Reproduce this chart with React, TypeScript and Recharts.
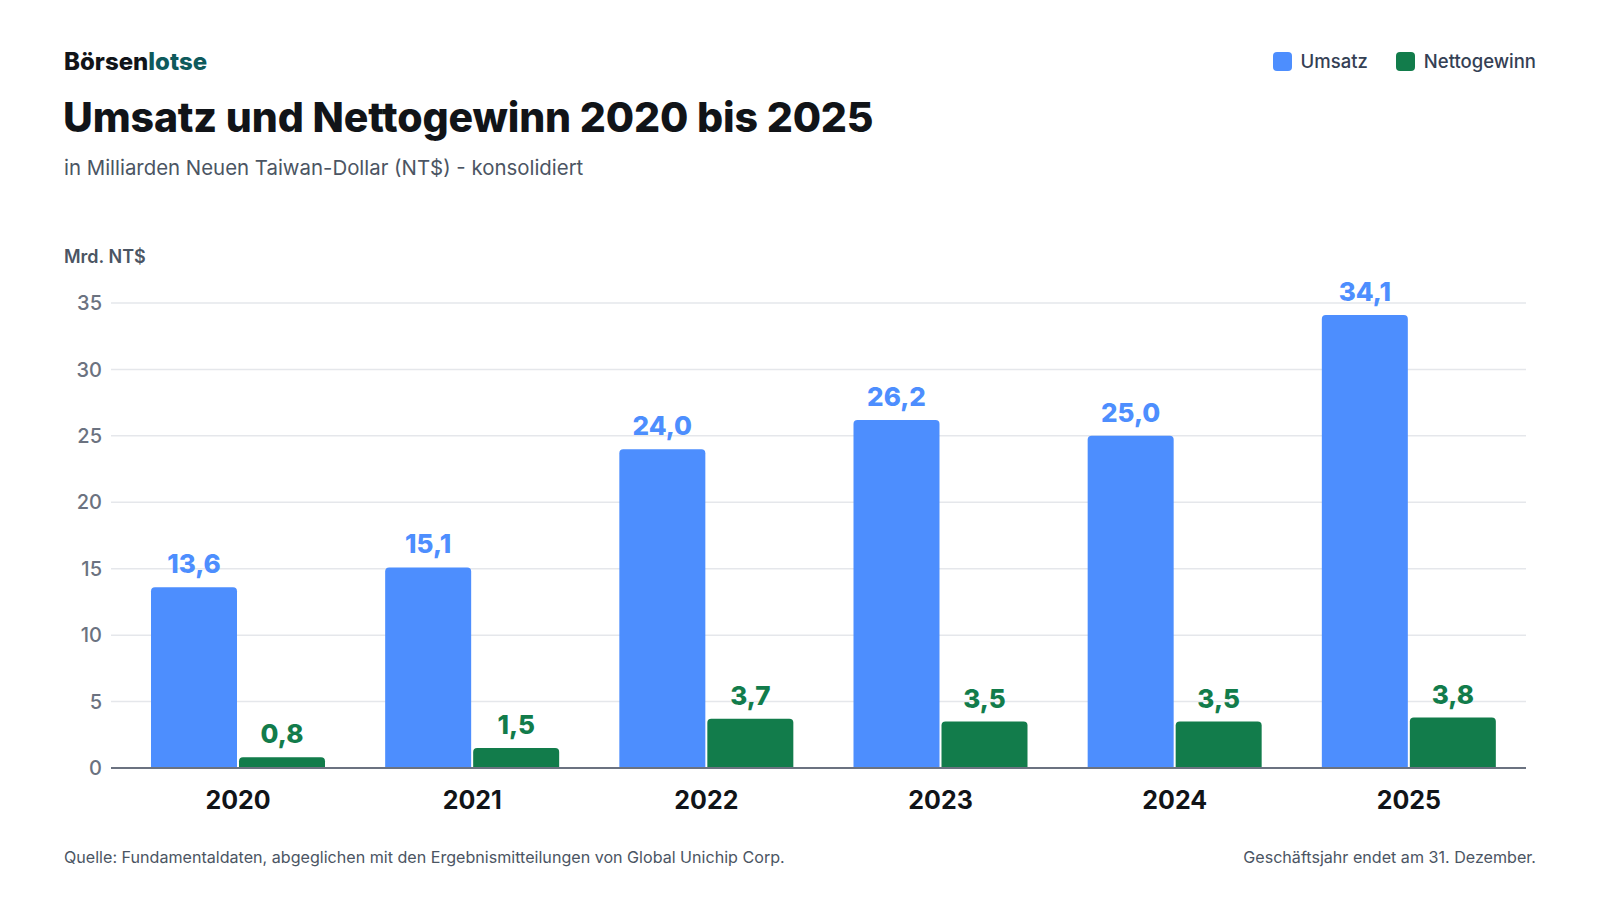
import React from 'react';
import { BarChart, Bar, XAxis, YAxis, CartesianGrid, LabelList } from 'recharts';

const years = ['2020', '2021', '2022', '2023', '2024', '2025'];
const umsatz = [13.6, 15.1, 24.0, 26.2, 25.0, 34.1];
const nettogewinn = [0.8, 1.5, 3.7, 3.5, 3.5, 3.8];
const yTicks = [0, 5, 10, 15, 20, 25, 30, 35];

const data = years.map((y, i) => ({ year: y, umsatz: umsatz[i], netto: nettogewinn[i] }));

const BLUE = '#4d8efe';
const GREEN = '#127c4b';
const FONT = 'Inter, "Noto Sans", sans-serif';

const fmt = (v: any) => Number(v).toFixed(1).replace('.', ',');

export default function App() {
  return (
    <div style={{ position: 'absolute', left: 0, top: 0, width: 1600, height: 900, background: '#fff', fontFamily: FONT, overflow: 'hidden' }}>
      <div style={{ position: 'absolute', left: 64, top: 49, fontSize: 24, lineHeight: '26px', fontWeight: 800, color: '#111418' }}>
        Börsen<span style={{ color: '#0e5a5c' }}>lotse</span>
      </div>
      <div style={{ position: 'absolute', left: 63, top: 95, fontSize: 41, lineHeight: '44px', fontWeight: 800, color: '#111418', letterSpacing: -0.15 }}>
        Umsatz und Nettogewinn 2020 bis 2025
      </div>
      <div style={{ position: 'absolute', left: 64, top: 156, fontSize: 20.4, lineHeight: '24px', fontWeight: 400, color: '#4b5563' }}>
        in Milliarden Neuen Taiwan-Dollar (NT$) - konsolidiert
      </div>
      <div style={{ position: 'absolute', right: 64, top: 50, display: 'flex', alignItems: 'center', gap: 28, fontSize: 18.5, lineHeight: '22px', fontWeight: 500, color: '#344054' }}>
        <div style={{ display: 'flex', alignItems: 'center', gap: 9 }}>
          <span style={{ width: 19, height: 19, borderRadius: 4, background: BLUE, display: 'inline-block' }} />
          <span>Umsatz</span>
        </div>
        <div style={{ display: 'flex', alignItems: 'center', gap: 9 }}>
          <span style={{ width: 19, height: 19, borderRadius: 4, background: GREEN, display: 'inline-block' }} />
          <span>Nettogewinn</span>
        </div>
      </div>
      <div style={{ position: 'absolute', left: 64, top: 246, fontSize: 18, lineHeight: '22px', fontWeight: 600, color: '#4b5563' }}>
        Mrd. NT$
      </div>

      <div style={{ position: 'absolute', left: 0, top: 0 }}>
        <BarChart
          width={1600}
          height={900}
          data={data}
          margin={{ top: 303, right: 74, bottom: 92, left: 51 }}
          barGap={2}
          barSize={86}
        >
          <CartesianGrid vertical={false} stroke="#e5e7eb" strokeWidth={1.5} />
          <XAxis
            dataKey="year"
            height={40}
            padding={{ left: 10, right: 0 }}
            tickLine={false}
            tickSize={0}
            tickMargin={23}
            axisLine={{ stroke: '#6b7280', strokeWidth: 2 }}
            tick={{ fill: '#111418', fontSize: 25, fontWeight: 700, fontFamily: FONT }}
          />
          <YAxis
            width={60}
            domain={[0, 35]}
            ticks={yTicks}
            interval={0}
            tickLine={false}
            tickSize={0}
            tickMargin={9}
            axisLine={false}
            tick={{ fill: '#6b7280', fontSize: 20, fontWeight: 500, fontFamily: FONT }}
          />
          <Bar dataKey="umsatz" fill={BLUE} radius={[4, 4, 0, 0]} isAnimationActive={false}>
            <LabelList dataKey="umsatz" position="top" offset={14} formatter={fmt} fill={BLUE} style={{ fontSize: 26, fontWeight: 800, fontFamily: FONT }} />
          </Bar>
          <Bar dataKey="netto" fill={GREEN} radius={[4, 4, 0, 0]} isAnimationActive={false}>
            <LabelList dataKey="netto" position="top" offset={14} formatter={fmt} fill={GREEN} style={{ fontSize: 26, fontWeight: 800, fontFamily: FONT }} />
          </Bar>
        </BarChart>
      </div>

      <div style={{ position: 'absolute', left: 64, top: 847, fontSize: 16.1, lineHeight: '20px', color: '#4b5563' }}>
        Quelle: Fundamentaldaten, abgeglichen mit den Ergebnismitteilungen von Global Unichip Corp.
      </div>
      <div style={{ position: 'absolute', right: 64, top: 847, fontSize: 16.1, lineHeight: '20px', color: '#4b5563' }}>
        Geschäftsjahr endet am 31. Dezember.
      </div>
    </div>
  );
}
